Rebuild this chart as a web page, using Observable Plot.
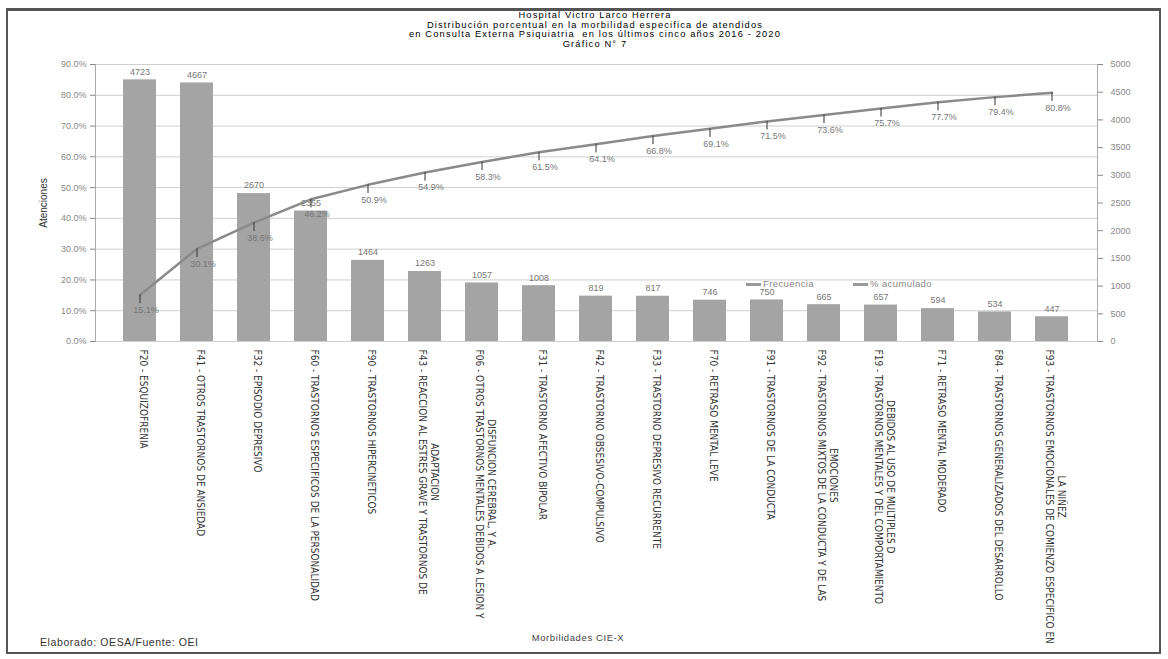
<!DOCTYPE html>
<html>
<head>
<meta charset="utf-8">
<script src="https://cdn.jsdelivr.net/npm/d3@7"></script>
<script src="https://cdn.jsdelivr.net/npm/@observablehq/plot@0.6"></script>
<style>
  body { margin: 0; background: #fff; }
  #wrap { position: relative; width: 1168px; height: 659px; overflow: hidden; font-family: "Liberation Sans", Arial, sans-serif; }
  #border { position: absolute; left: 6px; top: 8px; width: 1155px; height: 646px; border: 2px solid #555; border-top-width: 3px; box-sizing: border-box; }
  #title { position: absolute; top: 11px; left: 0; width: 1190px; text-align: center; font-size: 9.3px; font-weight: normal; color: #000; line-height: 9.6px; letter-spacing: 1.15px; }
  #chart { position: absolute; top: 55px; left: 0; }
  #foot { position: absolute; left: 40px; top: 636px; font-size: 10.5px; color: #333; letter-spacing: 0.6px; }
  #xlab { position: absolute; left: 478px; width: 200px; text-align: center; top: 632px; font-size: 9.5px; color: #444; letter-spacing: 0.6px; }
  .leg { position: absolute; top: 278px; font-size: 9.5px; color: #888; letter-spacing: 0.4px; }
  .sw { display: inline-block; width: 15px; height: 3px; background: #999; vertical-align: middle; margin-right: 2px; }
</style>
</head>
<body>
<div id="wrap">
  <div id="border"></div>
  <div id="title">Hospital Victro Larco Herrera<br>Distribución porcentual en la morbilidad especifica de atendidos<br>en Consulta Externa Psiquiatria&nbsp; en los últimos cinco años 2016 - 2020<br>Gráfico N° 7</div>
  <div id="chart"></div>
  <div class="leg" style="left:746px"><span class="sw"></span>Frecuencia</div>
  <div class="leg" style="left:853px"><span class="sw"></span>% acumulado</div>
  <div id="xlab">Morbilidades CIE-X</div>
  <div id="foot">Elaborado: OESA/Fuente: OEI</div>
</div>
<script>
const categories = ["F20","F41","F32","F60","F90","F43","F06","F31","F42","F33","F70","F91","F92","F19","F71","F84","F93"];
const labelLine1 = [
  "F20 - ESQUIZOFRENIA",
  "F41 - OTROS TRASTORNOS DE ANSIEDAD",
  "F32 - EPISODIO DEPRESIVO",
  "F60 - TRASTORNOS ESPECIFICOS DE LA PERSONALIDAD",
  "F90 - TRASTORNOS HIPERCINETICOS",
  "F43 - REACCION AL ESTRES GRAVE Y TRASTORNOS DE",
  "F06 - OTROS TRASTORNOS MENTALES DEBIDOS A LESION Y",
  "F31 - TRASTORNO AFECTIVO BIPOLAR",
  "F42 - TRASTORNO OBSESIVO-COMPULSIVO",
  "F33 - TRASTORNO DEPRESIVO RECURRENTE",
  "F70 - RETRASO MENTAL LEVE",
  "F91 - TRASTORNOS DE LA CONDUCTA",
  "F92 - TRASTORNOS MIXTOS DE LA CONDUCTA Y DE LAS",
  "F19 - TRASTORNOS MENTALES Y DEL COMPORTAMIENTO",
  "F71 - RETRASO MENTAL MODERADO",
  "F84 - TRASTORNOS GENERALIZADOS DEL DESARROLLO",
  "F93 - TRASTORNOS EMOCIONALES DE COMIENZO ESPECIFICO EN"
];
const labelLine2 = [null,null,null,null,null,"ADAPTACION","DISFUNCION CEREBRAL, Y A.",null,null,null,null,null,"EMOCIONES","DEBIDOS AL USO DE MULTIPLES D",null,null,"LA NIÑEZ"];
const frecuencia = [4723,4667,2670,2355,1464,1263,1057,1008,819,817,746,750,665,657,594,534,447];
const acumulado = [15.1,30.1,38.6,46.2,50.9,54.9,58.3,61.5,64.1,66.8,69.1,71.5,73.6,75.7,77.7,79.4,80.8];
const pctTicks = [0,0.1,0.2,0.3,0.4,0.5,0.6,0.7,0.8,0.9];
const freqTicks = [0,500,1000,1500,2000,2500,3000,3500,4000,4500,5000];
const FREQ_MAX = 5000, PCT_MAX = 0.9;

const rows = categories.map((c, i) => ({cat: c, l1: labelLine1[i], l2: labelLine2[i], f: frecuencia[i], p: acumulado[i] / 100}));
const single = rows.filter(d => !d.l2);
const multi = rows.filter(d => d.l2);
const fs = (v) => v / FREQ_MAX * PCT_MAX;
const labFont = "'Liberation Sans Narrow', 'DejaVu Sans Condensed', 'Arial Narrow', sans-serif";

const svg = Plot.plot({
  width: 1168, height: 600,
  marginTop: 9, marginBottom: 314, marginLeft: 95, marginRight: 71,
  style: {background: "transparent", fontFamily: "'Liberation Sans', Arial, sans-serif"},
  x: {type: "band", domain: categories, padding: 0.42, axis: null},
  y: {domain: [0, PCT_MAX], axis: null},
  marks: [
    Plot.ruleY(pctTicks, {stroke: "#cfcfcf", strokeWidth: 1}),
    Plot.barY(rows, {x: "cat", y: d => fs(d.f), fill: "#a4a4a4"}),
    Plot.axisY({anchor: "left", ticks: pctTicks, tickFormat: d3.format(".1%"), tickSize: 5, tickPadding: 4, fontSize: 9, color: "#888", label: null}),
    Plot.axisY({anchor: "left", ticks: [], label: "Atenciones", labelAnchor: "center", labelOffset: 56, labelArrow: "none", fontSize: 10, color: "#333"}),
    Plot.axisY({anchor: "right", ticks: freqTicks.map(fs), tickFormat: d => String(Math.round(d / PCT_MAX * FREQ_MAX)), tickSize: 5, tickPadding: 8, fontSize: 9, color: "#888", label: null}),
    Plot.frame({anchor: "left", stroke: "#aaa"}),
    Plot.frame({anchor: "right", stroke: "#aaa"}),
    Plot.text(rows, {x: "cat", y: d => fs(d.f), text: d => String(d.f), dy: -8, fontSize: 9, fill: "#777"}),
    Plot.line(rows, {x: "cat", y: "p", stroke: "#8a8a8a", strokeWidth: 2.5}),
    Plot.ruleX(rows, {x: "cat", y1: "p", y2: d => d.p - 0.028, stroke: "#333", strokeWidth: 1}),
    Plot.text(rows, {x: "cat", y: "p", text: d => d3.format(".1f")(d.p * 100) + "%", dx: 6, dy: 15, fontSize: 9, fill: "#777"}),
    Plot.text(single, {x: "cat", text: "l1", frameAnchor: "bottom", rotate: 90, textAnchor: "start", dy: 8, fontSize: 10, fill: "#333", fontFamily: labFont}),
    Plot.text(multi, {x: "cat", text: "l1", frameAnchor: "bottom", rotate: 90, textAnchor: "start", dy: 8, dx: -6, fontSize: 10, fill: "#333", fontFamily: labFont, ariaDescription: "xl1m"}),
    Plot.text(multi, {x: "cat", text: "l2", frameAnchor: "bottom", rotate: 90, textAnchor: "middle", dy: 8, dx: 6, fontSize: 10, fill: "#333", fontFamily: labFont, ariaDescription: "xl2m"})
  ]
});
document.getElementById("chart").append(svg);

// center the second line of wrapped labels on the first line
const l1 = svg.querySelectorAll('g[aria-description="xl1m"] text');
const l2 = svg.querySelectorAll('g[aria-description="xl2m"] text');
l2.forEach((t, i) => {
  const len = l1[i].getComputedTextLength();
  const tr = t.getAttribute("transform") || "";
  const m = tr.match(/translate\(\s*([-\d.e]+)[\s,]+([-\d.e]+)\s*\)(.*)/);
  if (m) t.setAttribute("transform", `translate(${m[1]},${+m[2] + len / 2})${m[3]}`);
});
</script>
</body>
</html>
